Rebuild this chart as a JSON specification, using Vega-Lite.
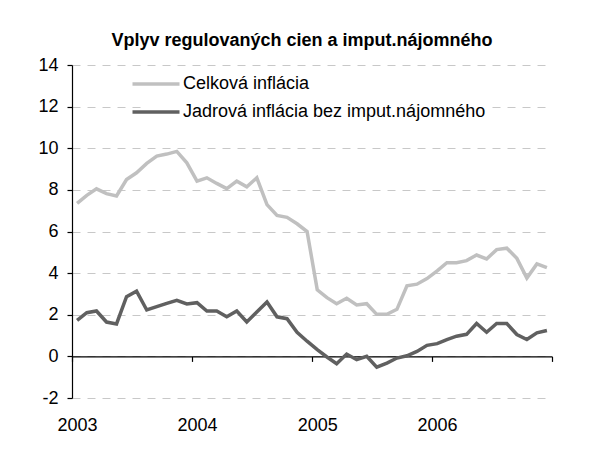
{
  "$schema": "https://vega.github.io/schema/vega-lite/v6.json",
  "autosize": {"type": "none"},
  "width": 480,
  "height": 333,
  "padding": {"left": 72, "top": 65, "right": 45, "bottom": 56},
  "background": "white",
  "title": {
    "text": "Vplyv regulovaných cien a imput.nájomného",
    "font": "Liberation Sans",
    "fontSize": 18,
    "fontWeight": "bold",
    "color": "black",
    "anchor": "middle",
    "baseline": "alphabetic",
    "dx": -10,
    "offset": -8
  },
  "config": {
    "view": {"stroke": null},
    "font": "Liberation Sans"
  },
  "datasets": {
    "infl": [
      {"d": "2003-01-01", "s": "Celková inflácia", "v": 7.35},
      {"d": "2003-02-01", "s": "Celková inflácia", "v": 7.74},
      {"d": "2003-03-01", "s": "Celková inflácia", "v": 8.05},
      {"d": "2003-04-01", "s": "Celková inflácia", "v": 7.82},
      {"d": "2003-05-01", "s": "Celková inflácia", "v": 7.71},
      {"d": "2003-06-01", "s": "Celková inflácia", "v": 8.5},
      {"d": "2003-07-01", "s": "Celková inflácia", "v": 8.82},
      {"d": "2003-08-01", "s": "Celková inflácia", "v": 9.27},
      {"d": "2003-09-01", "s": "Celková inflácia", "v": 9.62},
      {"d": "2003-10-01", "s": "Celková inflácia", "v": 9.72},
      {"d": "2003-11-01", "s": "Celková inflácia", "v": 9.85},
      {"d": "2003-12-01", "s": "Celková inflácia", "v": 9.3},
      {"d": "2004-01-01", "s": "Celková inflácia", "v": 8.42},
      {"d": "2004-02-01", "s": "Celková inflácia", "v": 8.58},
      {"d": "2004-03-01", "s": "Celková inflácia", "v": 8.31},
      {"d": "2004-04-01", "s": "Celková inflácia", "v": 8.06},
      {"d": "2004-05-01", "s": "Celková inflácia", "v": 8.42},
      {"d": "2004-06-01", "s": "Celková inflácia", "v": 8.15},
      {"d": "2004-07-01", "s": "Celková inflácia", "v": 8.58},
      {"d": "2004-08-01", "s": "Celková inflácia", "v": 7.29},
      {"d": "2004-09-01", "s": "Celková inflácia", "v": 6.77},
      {"d": "2004-10-01", "s": "Celková inflácia", "v": 6.68},
      {"d": "2004-11-01", "s": "Celková inflácia", "v": 6.37},
      {"d": "2004-12-01", "s": "Celková inflácia", "v": 6.0},
      {"d": "2005-01-01", "s": "Celková inflácia", "v": 3.2},
      {"d": "2005-02-01", "s": "Celková inflácia", "v": 2.82},
      {"d": "2005-03-01", "s": "Celková inflácia", "v": 2.53},
      {"d": "2005-04-01", "s": "Celková inflácia", "v": 2.79},
      {"d": "2005-05-01", "s": "Celková inflácia", "v": 2.47},
      {"d": "2005-06-01", "s": "Celková inflácia", "v": 2.53},
      {"d": "2005-07-01", "s": "Celková inflácia", "v": 2.02},
      {"d": "2005-08-01", "s": "Celková inflácia", "v": 2.02},
      {"d": "2005-09-01", "s": "Celková inflácia", "v": 2.26},
      {"d": "2005-10-01", "s": "Celková inflácia", "v": 3.39},
      {"d": "2005-11-01", "s": "Celková inflácia", "v": 3.47},
      {"d": "2005-12-01", "s": "Celková inflácia", "v": 3.74},
      {"d": "2006-01-01", "s": "Celková inflácia", "v": 4.11},
      {"d": "2006-02-01", "s": "Celková inflácia", "v": 4.5},
      {"d": "2006-03-01", "s": "Celková inflácia", "v": 4.5},
      {"d": "2006-04-01", "s": "Celková inflácia", "v": 4.6},
      {"d": "2006-05-01", "s": "Celková inflácia", "v": 4.87},
      {"d": "2006-06-01", "s": "Celková inflácia", "v": 4.68},
      {"d": "2006-07-01", "s": "Celková inflácia", "v": 5.13},
      {"d": "2006-08-01", "s": "Celková inflácia", "v": 5.2},
      {"d": "2006-09-01", "s": "Celková inflácia", "v": 4.71},
      {"d": "2006-10-01", "s": "Celková inflácia", "v": 3.76},
      {"d": "2006-11-01", "s": "Celková inflácia", "v": 4.44},
      {"d": "2006-12-01", "s": "Celková inflácia", "v": 4.26},
      {"d": "2003-01-01", "s": "Jadrová inflácia bez imput.nájomného", "v": 1.73},
      {"d": "2003-02-01", "s": "Jadrová inflácia bez imput.nájomného", "v": 2.1},
      {"d": "2003-03-01", "s": "Jadrová inflácia bez imput.nájomného", "v": 2.18},
      {"d": "2003-04-01", "s": "Jadrová inflácia bez imput.nájomného", "v": 1.65},
      {"d": "2003-05-01", "s": "Jadrová inflácia bez imput.nájomného", "v": 1.56},
      {"d": "2003-06-01", "s": "Jadrová inflácia bez imput.nájomného", "v": 2.87},
      {"d": "2003-07-01", "s": "Jadrová inflácia bez imput.nájomného", "v": 3.13},
      {"d": "2003-08-01", "s": "Jadrová inflácia bez imput.nájomného", "v": 2.23},
      {"d": "2003-09-01", "s": "Jadrová inflácia bez imput.nájomného", "v": 2.39},
      {"d": "2003-10-01", "s": "Jadrová inflácia bez imput.nájomného", "v": 2.55},
      {"d": "2003-11-01", "s": "Jadrová inflácia bez imput.nájomného", "v": 2.69},
      {"d": "2003-12-01", "s": "Jadrová inflácia bez imput.nájomného", "v": 2.52},
      {"d": "2004-01-01", "s": "Jadrová inflácia bez imput.nájomného", "v": 2.58},
      {"d": "2004-02-01", "s": "Jadrová inflácia bez imput.nájomného", "v": 2.18},
      {"d": "2004-03-01", "s": "Jadrová inflácia bez imput.nájomného", "v": 2.18},
      {"d": "2004-04-01", "s": "Jadrová inflácia bez imput.nájomného", "v": 1.9},
      {"d": "2004-05-01", "s": "Jadrová inflácia bez imput.nájomného", "v": 2.18},
      {"d": "2004-06-01", "s": "Jadrová inflácia bez imput.nájomného", "v": 1.65},
      {"d": "2004-07-01", "s": "Jadrová inflácia bez imput.nájomného", "v": 2.13},
      {"d": "2004-08-01", "s": "Jadrová inflácia bez imput.nájomného", "v": 2.61},
      {"d": "2004-09-01", "s": "Jadrová inflácia bez imput.nájomného", "v": 1.9},
      {"d": "2004-10-01", "s": "Jadrová inflácia bez imput.nájomného", "v": 1.81},
      {"d": "2004-11-01", "s": "Jadrová inflácia bez imput.nájomného", "v": 1.16},
      {"d": "2004-12-01", "s": "Jadrová inflácia bez imput.nájomného", "v": 0.73},
      {"d": "2005-01-01", "s": "Jadrová inflácia bez imput.nájomného", "v": 0.32},
      {"d": "2005-02-01", "s": "Jadrová inflácia bez imput.nájomného", "v": -0.03},
      {"d": "2005-03-01", "s": "Jadrová inflácia bez imput.nájomného", "v": -0.35},
      {"d": "2005-04-01", "s": "Jadrová inflácia bez imput.nájomného", "v": 0.11},
      {"d": "2005-05-01", "s": "Jadrová inflácia bez imput.nájomného", "v": -0.16},
      {"d": "2005-06-01", "s": "Jadrová inflácia bez imput.nájomného", "v": 0.0},
      {"d": "2005-07-01", "s": "Jadrová inflácia bez imput.nájomného", "v": -0.52},
      {"d": "2005-08-01", "s": "Jadrová inflácia bez imput.nájomného", "v": -0.32},
      {"d": "2005-09-01", "s": "Jadrová inflácia bez imput.nájomného", "v": -0.08},
      {"d": "2005-10-01", "s": "Jadrová inflácia bez imput.nájomného", "v": 0.03},
      {"d": "2005-11-01", "s": "Jadrová inflácia bez imput.nájomného", "v": 0.24},
      {"d": "2005-12-01", "s": "Jadrová inflácia bez imput.nájomného", "v": 0.53},
      {"d": "2006-01-01", "s": "Jadrová inflácia bez imput.nájomného", "v": 0.61},
      {"d": "2006-02-01", "s": "Jadrová inflácia bez imput.nájomného", "v": 0.81},
      {"d": "2006-03-01", "s": "Jadrová inflácia bez imput.nájomného", "v": 0.97},
      {"d": "2006-04-01", "s": "Jadrová inflácia bez imput.nájomného", "v": 1.06},
      {"d": "2006-05-01", "s": "Jadrová inflácia bez imput.nájomného", "v": 1.58},
      {"d": "2006-06-01", "s": "Jadrová inflácia bez imput.nájomného", "v": 1.16},
      {"d": "2006-07-01", "s": "Jadrová inflácia bez imput.nájomného", "v": 1.58},
      {"d": "2006-08-01", "s": "Jadrová inflácia bez imput.nájomného", "v": 1.58},
      {"d": "2006-09-01", "s": "Jadrová inflácia bez imput.nájomného", "v": 1.05},
      {"d": "2006-10-01", "s": "Jadrová inflácia bez imput.nájomného", "v": 0.81},
      {"d": "2006-11-01", "s": "Jadrová inflácia bez imput.nájomného", "v": 1.13},
      {"d": "2006-12-01", "s": "Jadrová inflácia bez imput.nájomného", "v": 1.24}
    ]
  },
  "layer": [
    {
      "mark": {"type": "rule", "color": "#000000", "strokeWidth": 1.2, "strokeDash": [2000, 1]},
      "encoding": {"y": {"datum": 0, "type": "quantitative"}}
    },
    {
      "data": {"name": "infl"},
      "mark": {"type": "line", "strokeWidth": 3.5},
      "encoding": {
        "x": {
          "field": "d",
          "type": "temporal",
          "timeUnit": "utcyearmonth",
          "bandPosition": 0.5,
          "scale": {
            "type": "utc",
            "domain": [
              {"year": 2003, "month": 1, "date": 1, "utc": true},
              {"year": 2007, "month": 1, "date": 1, "utc": true}
            ]
          },
          "axis": {
            "title": null,
            "values": [
              {"year": 2003, "month": 1, "date": 1, "utc": true},
              {"year": 2004, "month": 1, "date": 1, "utc": true},
              {"year": 2005, "month": 1, "date": 1, "utc": true},
              {"year": 2006, "month": 1, "date": 1, "utc": true},
              {"year": 2007, "month": 1, "date": 1, "utc": true}
            ],
            "labelExpr": "utcFormat(datum.value, '%Y') == '2007' ? '' : utcFormat(datum.value, '%Y')",
            "offset": -41.6,
            "grid": false,
            "domain": true,
            "ticks": true,
            "domainColor": "#000000",
            "domainWidth": 1.2,
            "domainDash": [2000, 1],
            "tickColor": "#000000",
            "tickWidth": 1.2,
            "tickDash": [2000, 1],
            "tickSize": 5,
            "labelPadding": 55,
            "labelOffset": 5,
            "labelFontSize": 18,
            "labelColor": "black",
            "labelFont": "Liberation Sans",
            "labelFlush": false,
            "labelOverlap": false
          }
        },
        "y": {
          "field": "v",
          "type": "quantitative",
          "scale": {"domain": [-2, 14], "nice": false, "zero": false},
          "axis": {
            "title": null,
            "values": [-2, 0, 2, 4, 6, 8, 10, 12, 14],
            "labelExpr": "'' + datum.value",
            "grid": true,
            "gridDash": [8, 7],
            "gridColor": "#c8c8c8",
            "gridWidth": 1,
            "domain": true,
            "ticks": true,
            "domainColor": "#000000",
            "domainWidth": 1.2,
            "domainDash": [2000, 1],
            "tickColor": "#000000",
            "tickWidth": 1.2,
            "tickDash": [2000, 1],
            "tickSize": 5,
            "labelPadding": 9,
            "labelFontSize": 18,
            "labelColor": "black",
            "labelFont": "Liberation Sans"
          }
        },
        "color": {
          "field": "s",
          "type": "nominal",
          "scale": {
            "domain": ["Celková inflácia", "Jadrová inflácia bez imput.nájomného"],
            "range": ["#c0c0c0", "#606060"]
          },
          "legend": {
            "title": null,
            "orient": "none",
            "legendX": 75,
            "legendY": 10,
            "symbolType": "M-4.7,0H4.7",
            "symbolSize": 100,
            "symbolStrokeWidth": 3.5,
            "labelFontSize": 18,
            "labelFont": "Liberation Sans",
            "labelColor": "black",
            "labelOffset": 18,
            "rowPadding": 10,
            "padding": 0,
            "fillColor": "white",
            "labelLimit": 400
          }
        }
      }
    }
  ]
}
